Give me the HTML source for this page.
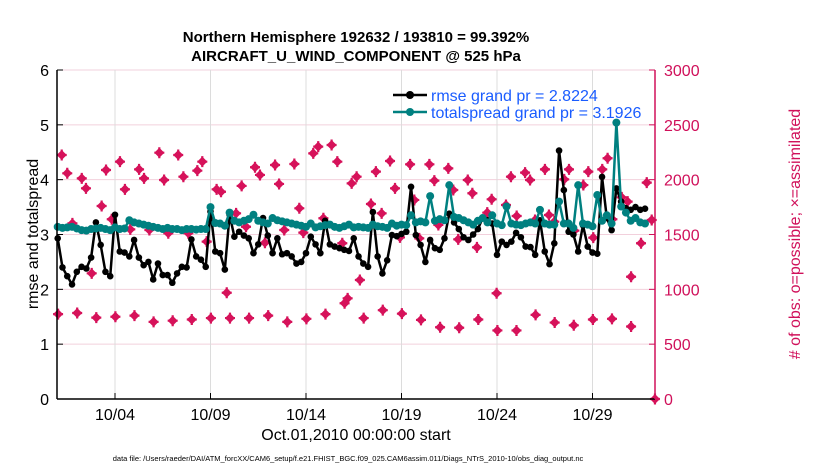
<!DOCTYPE html>
<html><head><meta charset="utf-8"><style>
body{margin:0;background:#fff;}
svg text{font-family:"Liberation Sans",sans-serif;}
</style></head><body>
<svg id="chart" width="830" height="470" xmlns="http://www.w3.org/2000/svg">
<rect width="830" height="470" fill="#fff"/>
<g id="grid"></g>
<g id="marks"></g>
<g id="axes"></g>
<text x="356" y="42" text-anchor="middle" font-size="15" font-weight="bold">Northern Hemisphere 192632 / 193810 = 99.392%</text>
<text x="356" y="61" text-anchor="middle" font-size="15" font-weight="bold">AIRCRAFT_U_WIND_COMPONENT @ 525 hPa</text>
<text transform="translate(38,234) rotate(-90)" text-anchor="middle" font-size="16">rmse and totalspread</text>
<text transform="translate(800,234) rotate(-90)" text-anchor="middle" font-size="16" fill="#d0105a"># of obs: o=possible; ×=assimilated</text>
<text x="356" y="440" text-anchor="middle" font-size="16">Oct.01,2010 00:00:00 start</text>
<text x="348" y="461" text-anchor="middle" font-size="7.5">data file: /Users/raeder/DAI/ATM_forcXX/CAM6_setup/f.e21.FHIST_BGC.f09_025.CAM6assim.011/Diags_NTrS_2010-10/obs_diag_output.nc</text>
<g>
<line x1="393" y1="95" x2="427" y2="95" stroke="#000" stroke-width="2.5"/>
<circle cx="410" cy="95" r="4" fill="#000"/>
<text x="431" y="101" font-size="16" fill="#1a5cff">rmse grand pr = 2.8224</text>
<line x1="393" y1="112" x2="427" y2="112" stroke="#008080" stroke-width="2.5"/>
<circle cx="410" cy="112" r="4" fill="#008080"/>
<text x="431" y="118" font-size="16" fill="#1a5cff">totalspread grand pr = 3.1926</text>
</g>
</svg>
<script>
const rmse=[2.93,2.40,2.24,2.09,2.32,2.41,2.38,2.58,3.22,2.81,2.32,2.24,3.36,2.69,2.67,2.60,2.90,2.58,2.44,2.50,2.18,2.47,2.26,2.26,2.12,2.29,2.41,2.40,2.91,2.60,2.54,2.41,
3.42,2.69,2.66,2.36,3.36,2.96,3.05,2.98,2.93,2.66,2.82,3.30,2.98,2.66,2.93,2.64,2.66,2.60,2.47,2.50,2.66,2.96,2.82,2.66,3.25,2.82,2.78,2.75,2.72,2.70,
2.93,2.60,2.47,2.41,3.41,2.60,2.29,2.53,2.99,2.97,3.01,3.05,3.87,2.99,2.81,2.50,2.90,2.75,2.72,2.93,3.38,3.22,3.10,2.95,2.90,3.00,3.10,3.30,3.26,3.20,
2.63,2.87,2.81,2.87,3.03,2.95,2.78,2.77,2.63,3.26,2.69,2.46,2.84,4.53,3.81,3.05,3.00,2.69,3.17,2.78,2.67,2.65,4.05,3.30,3.08,3.84,3.60,3.48,3.45,3.50,3.45,3.47];
const spread=[3.14,3.12,3.13,3.14,3.11,3.08,3.07,3.10,3.11,3.12,3.10,3.08,3.13,3.10,3.11,3.26,3.22,3.20,3.18,3.16,3.14,3.12,3.10,3.12,3.10,3.10,3.08,3.10,3.10,3.09,3.10,3.10,
3.50,3.21,3.20,3.16,3.40,3.25,3.22,3.25,3.28,3.36,3.25,3.22,3.20,3.30,3.26,3.24,3.22,3.20,3.18,3.16,3.14,3.20,3.13,3.15,3.17,3.18,3.14,3.12,3.15,3.18,
3.13,3.14,3.13,3.12,3.18,3.15,3.14,3.12,3.20,3.16,3.18,3.17,3.35,3.22,3.24,3.22,3.70,3.25,3.28,3.26,3.90,3.32,3.30,3.26,3.22,3.18,3.25,3.30,3.22,3.35,
3.20,3.17,3.51,3.20,3.18,3.17,3.20,3.22,3.20,3.45,3.20,3.18,3.18,3.60,3.20,3.20,3.12,3.90,3.20,3.18,3.15,3.72,3.25,3.35,3.20,5.04,3.51,3.40,3.25,3.30,3.22,3.20];
const obsDays=[0.21,0.50,0.77,1.26,1.48,1.78,2.30,2.53,2.83,3.26,3.52,3.80,4.26,4.52,4.80,5.32,5.57,5.79,6.31,6.58,6.84,7.31,7.57,7.80,
8.32,8.55,8.85,9.34,9.63,9.86,10.33,10.59,10.85,11.38,11.59,11.86,12.39,12.65,12.86,13.38,13.64,13.91,14.34,14.64,14.90,15.18,15.39,15.65,15.82,
16.40,16.66,16.96,17.40,17.66,17.92,18.45,18.67,18.93,19.46,19.72,19.93,20.45,20.71,20.97,21.47,21.71,21.95,22.49,22.72,22.98,23.47,
23.73,24.03,24.47,24.73,24.99,25.51,25.72,26.0,26.52,26.77,27.05,27.52,27.78,28.04,28.51,28.79,29.04,29.53,29.84,30.02,30.54,30.84,31.10,31.27];
const obsVals=[2225,2058,1602,2012,1921,1146,1760,2088,1639,2164,1912,1547,2094,2012,1541,2246,1997,1511,2225,2027,1511,2082,2164,1435,
1912,1890,969,1693,1943,1571,2113,2043,1425,2134,1961,1541,2143,1739,1517,2240,2301,1648,2316,2164,1420,918,1966,2027,1085,
1778,2073,1693,2170,1921,1474,2140,1815,1465,2140,1991,1587,2103,1906,1456,1997,1876,1383,1699,1821,964,1769,
2027,1669,2064,1997,1632,2094,1678,1617,2003,2094,1535,1951,2073,1471,2094,2195,1639,1839,1800,1115,1420,1973,1632,0];
const lowVals=[774,784,742,750,760,703,714,725,738,738,738,760,703,731,774,873,738,810,778,721,654,650,725,625,625,767,697,672,725,731,661];
const leftTicks=[0,1,2,3,4,5,6];
const rightTicks=[0,500,1000,1500,2000,2500,3000];
const xTickDays=[3,8,13,18,23,28];
const xTickLabels=["10/04","10/09","10/14","10/19","10/24","10/29"];

const X0=57.7,DX=19.1,L=57,R=655,T=70,B=399;
const xs=d=>X0+d*DX;
const yl=v=>B-(v/6)*(B-T);
const yr=v=>B-(v/3000)*(B-T);
const NS="http://www.w3.org/2000/svg";
function mk(tag,parent,attrs){const e=document.createElementNS(NS,tag);for(const k in attrs)e.setAttribute(k,attrs[k]);parent.appendChild(e);return e;}
const grid=document.getElementById('grid'),marks=document.getElementById('marks'),axes=document.getElementById('axes');
leftTicks.forEach((v,i)=>{
  if(v>0){const g=mk('line',grid,{x1:L,x2:R,y1:yl(v),y2:yl(v),stroke:'#f2d0dc','stroke-width':1});
  
  }
  const t=mk('text',axes,{x:L-8,y:yl(v)+6,'text-anchor':'end','font-size':16});t.textContent=v;
  
  
  mk('line',axes,{x1:L,x2:L+6,y1:yl(v),y2:yl(v),stroke:'#000'});
});
rightTicks.forEach(v=>{
  const t=mk('text',axes,{x:R+9,y:yr(v)+6,'font-size':16,fill:'#d0105a'});t.textContent=v;
  
  
  mk('line',axes,{x1:R-6,x2:R,y1:yr(v),y2:yr(v),stroke:'#d0105a'});
});
xTickDays.forEach((d,i)=>{
  const g=mk('line',grid,{x1:xs(d),x2:xs(d),y1:T,y2:B,stroke:'#dcdcdc','stroke-width':1});
  
  
  mk('line',axes,{x1:xs(d),x2:xs(d),y1:B,y2:B-6,stroke:'#000'});
  const t=mk('text',axes,{x:xs(d),y:B+21,'text-anchor':'middle','font-size':16});t.textContent=xTickLabels[i];
  
  
});
mk('line',axes,{x1:L,x2:L,y1:T,y2:B,stroke:'#000','stroke-width':1.5});
mk('line',axes,{x1:L,x2:R,y1:B,y2:B,stroke:'#000','stroke-width':1.5});
mk('line',axes,{x1:R,x2:R,y1:T,y2:B,stroke:'#d0105a','stroke-width':1.5});

function obsMark(x,y){
  const g=mk('g',marks,{});
  
  
  mk('path',g,{d:`M${x} ${y-5}L${x+5} ${y}L${x} ${y+5}L${x-5} ${y}Z`,fill:'#d6125a'});
  mk('path',g,{d:`M${x-5} ${y}H${x+5}M${x} ${y-5.5}V${y+5.5}`,stroke:'#d6125a','stroke-width':2.2});
}
obsDays.forEach((d,i)=>obsMark(xs(d),yr(obsVals[i])));
lowVals.forEach((v,i)=>obsMark(xs(i+0.02),yr(v)));

function series(vals,color,r,name){
  const pts=vals.map((v,i)=>[xs(i/4),yl(v)]);
  const p=mk('polyline',marks,{points:pts.map(p=>p.join(',')).join(' '),fill:'none',stroke:color,'stroke-width':2.5,'stroke-linejoin':'round'});
  
  
  pts.forEach(q=>{const c=mk('circle',marks,{cx:q[0],cy:q[1],r:r,fill:color});
  
  });
}
series(rmse,'#000',3.3,'rmse');
series(spread,'#008080',4,'totalspread');
</script>
</body></html>
